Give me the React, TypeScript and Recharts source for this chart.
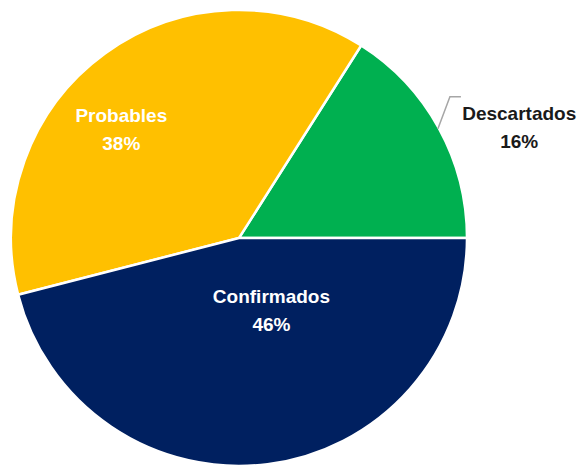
import React from 'react';
import { PieChart, Pie, Cell } from 'recharts';

// Slice data (percentages)
const categories = ['Descartados', 'Probables', 'Confirmados'];
const shares = [16, 38, 46];
const sliceColors = ['#00B050', '#FFC000', '#002060'];

const data = categories.map((name, i) => ({ name, value: shares[i] }));

// Label placement: angle (deg) and distance as fraction of the radius
const labelAngle = [21.4, 137.5, 294];
const labelDist = [1.32, 0.7, 0.35];
const labelColor = ['#1a1a1a', '#ffffff', '#ffffff'];

const RAD = Math.PI / 180;

function renderLabel(props: any) {
  const { cx, cy, outerRadius, midAngle, index, name, value } = props;
  const a = labelAngle[index];
  const d = labelDist[index] * outerRadius;
  const x = cx + d * Math.cos(a * RAD);
  const y = cy - d * Math.sin(a * RAD);
  const txt = (
    <text
      x={x}
      y={y}
      textAnchor="middle"
      fill={labelColor[index]}
      fontFamily="'Liberation Sans', Arial, sans-serif"
      fontWeight="bold"
      fontSize={19}
    >
      <tspan x={x} dy={-8}>{name}</tspan>
      <tspan x={x} dy={28}>{value}%</tspan>
    </text>
  );
  if (labelDist[index] <= 1) return <g key={`l-${index}`}>{txt}</g>;
  // leader line for the outside label
  const sx = cx + (outerRadius - 1) * Math.cos(midAngle * RAD);
  const sy = cy - (outerRadius - 1) * Math.sin(midAngle * RAD);
  const ex = sx + 12;
  const ey = sy - 32;
  return (
    <g key={`l-${index}`}>
      <polyline
        points={`${sx},${sy} ${ex},${ey} ${ex + 11},${ey}`}
        fill="none"
        stroke="#a6a6a6"
        strokeWidth={1.5}
      />
      {txt}
    </g>
  );
}

export default function App() {
  return (
    <div style={{ position: 'absolute', left: 0, top: 0, background: '#fff' }}>
      <PieChart width={580} height={466} margin={{ top: 0, right: 0, bottom: 0, left: 0 }}>
        <Pie
          data={data}
          dataKey="value"
          nameKey="name"
          cx={239}
          cy={238}
          outerRadius={228}
          startAngle={0}
          endAngle={360}
          stroke="#ffffff"
          strokeWidth={2.5}
          labelLine={false}
          label={renderLabel}
          isAnimationActive={false}
        >
          {data.map((d, i) => (
            <Cell key={d.name} fill={sliceColors[i]} />
          ))}
        </Pie>
      </PieChart>
    </div>
  );
}
